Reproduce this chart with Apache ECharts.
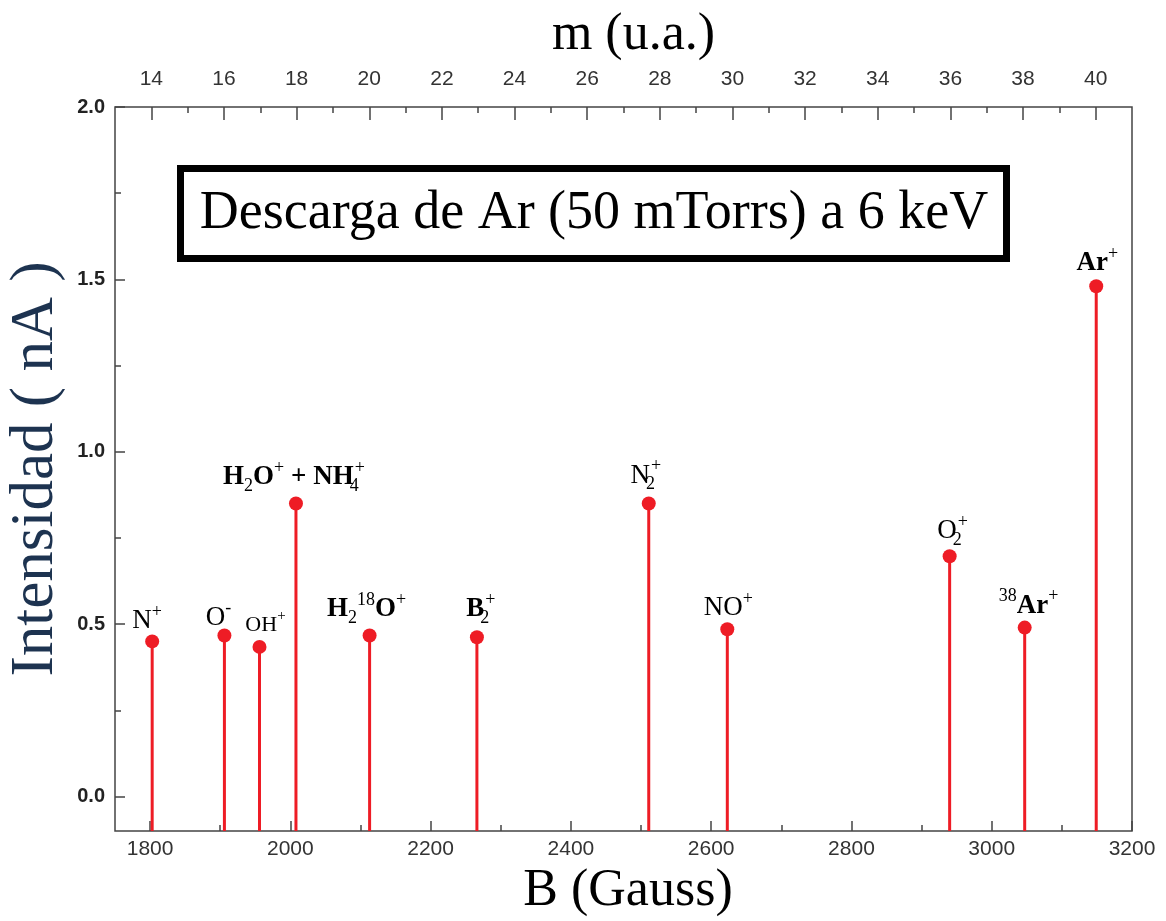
<!DOCTYPE html>
<html>
<head>
<meta charset="utf-8">
<script src="https://cdn.jsdelivr.net/npm/echarts@6/dist/echarts.min.js"></script>
<style>
  html, body { margin: 0; padding: 0; background: #fff; }
  #chart { width: 1166px; height: 921px; }
</style>
</head>
<body>
<div id="chart"></div>
<script>
// peaks: field B (Gauss) and current (nA)
var fieldB = [1803, 1906, 1956, 2008, 2113, 2266, 2511, 2623, 2940, 3047, 3149]
var intensity = [0.450, 0.467, 0.434, 0.850, 0.467, 0.462, 0.850, 0.485, 0.697, 0.490, 1.480]
var ionLabels = [
    '{m|N}{sup|+}',
    '{m|O}{sup|-}',
    '{s|OH}{ssup|+}',
    '{mb|H}{sub|2}{mb|O}{sup|+}{mb| + NH}{st|4}{sup|+}',
    '{mb|H}{sub|2}{sup|18}{mb|O}{sup|+}',
    '{mb|B}{st|2}{sup|+}',
    '{m|N}{st|2}{sup|+}',
    '{m|NO}{sup|+}',
    '{m|O}{st|2}{sup|+}',
    '{sup|38}{mb|Ar}{sup|+}',
    '{mb|Ar}{sup|+}'
]
// small nudges so the labels sit like in the original
var labelShift = [[-5, 10], [-6, 12], [6, 6], [-2, 4], [-3, 4], [4, 2], [-3, 2], [1, 9], [3, 5], [4, 8], [1, 7]]

var bTicks = [1800, 2000, 2200, 2400, 2600, 2800, 3000, 3200]
var bMinor = [1900, 2100, 2300, 2500, 2700, 2900, 3100]
var mTicks = [14, 16, 18, 20, 22, 24, 26, 28, 30, 32, 34, 36, 38, 40]
var mMinor = [15, 17, 19, 21, 23, 25, 27, 29, 31, 33, 35, 37, 39]
var yTicks = [0, 0.5, 1.0, 1.5, 2.0]
var yMinor = [0.25, 0.75, 1.25, 1.75]

var B_MIN = 1750, B_MAX = 3200
var Y_MIN = -0.1, Y_MAX = 2.0
var RED = '#ee1c25'
var AXIS = '#444'

var chart = echarts.init(document.getElementById('chart'))

var points = fieldB.map(function (b, i) {
    return {
        value: [b, intensity[i]],
        label: {formatter: ionLabels[i], offset: labelShift[i]}
    }
})

var serif = 'Liberation Serif'
var rich = {
    m: {fontFamily: serif, fontSize: 27, lineHeight: 36, color: '#000', verticalAlign: 'middle'},
    mb: {fontFamily: serif, fontSize: 27, lineHeight: 36, color: '#000', fontWeight: 'bold', verticalAlign: 'middle'},
    s: {fontFamily: serif, fontSize: 22, lineHeight: 32, color: '#000', verticalAlign: 'middle'},
    ssup: {fontFamily: serif, fontSize: 15, lineHeight: 14, color: '#000', verticalAlign: 'top'},
    sup: {fontFamily: serif, fontSize: 18, lineHeight: 16, color: '#000', verticalAlign: 'top'},
    sub: {fontFamily: serif, fontSize: 18, lineHeight: 16, color: '#000', verticalAlign: 'bottom'},
    st: {fontFamily: serif, fontSize: 18, lineHeight: 16, color: '#000', verticalAlign: 'bottom', width: 1, align: 'left'}
}

var tickLabel = {
    fontFamily: 'Liberation Sans', fontSize: 21, color: '#333',
    formatter: function (v) { return String(v) }
}

function minorAxis(pos, min, max, values) {
    return {
        type: 'value', position: pos, min: min, max: max,
        axisLine: {show: false, onZero: false},
        axisTick: {inside: true, length: 6, customValues: values, lineStyle: {color: AXIS, width: 1.5}},
        axisLabel: {show: false}, splitLine: {show: false}
    }
}

var option = {
    backgroundColor: '#fff',
    animation: false,
    grid: {
        left: 115, right: 34, top: 107, bottom: 90, outerBoundsMode: 'none',
        show: true, borderColor: AXIS, borderWidth: 1.5
    },
    xAxis: [
        {
            type: 'value', position: 'bottom', min: B_MIN, max: B_MAX,
            name: 'B (Gauss)', nameLocation: 'middle', nameGap: 33,
            nameTextStyle: {fontFamily: serif, fontSize: 52, color: '#000', padding: [0, 0, 0, 9]},
            axisLine: {show: false, onZero: false},
            axisTick: {inside: true, length: 10, customValues: bTicks, lineStyle: {color: AXIS, width: 1.5}},
            axisLabel: Object.assign({customValues: bTicks, margin: 8}, tickLabel),
            splitLine: {show: false}
        },
        minorAxis('bottom', B_MIN, B_MAX, bMinor),
        {
            type: 'value', position: 'top', min: 13, max: 41,
            name: 'm (u.a.)', nameLocation: 'middle', nameGap: 46,
            nameTextStyle: {fontFamily: serif, fontSize: 52, color: '#000', padding: [0, 0, 0, 20]},
            axisLine: {show: false, onZero: false},
            axisTick: {inside: true, length: 13, customValues: mTicks, lineStyle: {color: AXIS, width: 1.5}},
            axisLabel: Object.assign({customValues: mTicks, margin: 17}, tickLabel),
            splitLine: {show: false}
        },
        minorAxis('top', 13, 41, mMinor)
    ],
    yAxis: [
        {
            type: 'value', position: 'left', min: Y_MIN, max: Y_MAX,
            name: 'Intensidad ( nA )', nameLocation: 'middle', nameGap: 45,
            nameTextStyle: {fontFamily: serif, fontSize: 61, color: '#1d3350'},
            axisLine: {show: false, onZero: false},
            axisTick: {inside: true, length: 10, customValues: yTicks, lineStyle: {color: AXIS, width: 1.5}},
            axisLabel: {
                customValues: yTicks, margin: 10,
                fontFamily: 'Liberation Sans', fontSize: 20, fontWeight: 'bold', color: '#222',
                formatter: function (v) { return v.toFixed(1) }
            },
            splitLine: {show: false}
        },
        minorAxis('left', Y_MIN, Y_MAX, yMinor)
    ],
    graphic: [
        {
            type: 'group', left: 177, top: 165,
            children: [
                {
                    type: 'rect', shape: {x: 3.5, y: 3.5, width: 826, height: 90},
                    style: {fill: '#fff', stroke: '#000', lineWidth: 7}
                },
                {
                    type: 'text', x: 417, y: 49,
                    style: {
                        text: 'Descarga de Ar (50 mTorrs) a 6 keV', fontFamily: serif, fontSize: 54,
                        fill: '#000', align: 'center', verticalAlign: 'middle'
                    }
                }
            ]
        }
    ],
    series: [
        {
            // stems drawn from the bottom of the frame up to each peak
            type: 'custom',
            xAxisIndex: 0, yAxisIndex: 0,
            data: fieldB.map(function (b, i) { return [b, intensity[i]] }),
            renderItem: function (params, api) {
                var top = api.coord([api.value(0), api.value(1)])
                var bottom = api.coord([api.value(0), Y_MIN])
                return {
                    type: 'line',
                    shape: {x1: top[0], y1: top[1], x2: bottom[0], y2: bottom[1]},
                    style: {stroke: RED, lineWidth: 3}
                }
            },
            z: 2
        },
        {
            type: 'scatter',
            xAxisIndex: 0, yAxisIndex: 0,
            symbol: 'circle', symbolSize: 14,
            itemStyle: {color: RED, opacity: 1},
            label: {show: true, position: 'top', distance: 5, rich: rich},
            data: points,
            z: 3
        }
    ]
}

chart.setOption(option)
</script>
</body>
</html>
